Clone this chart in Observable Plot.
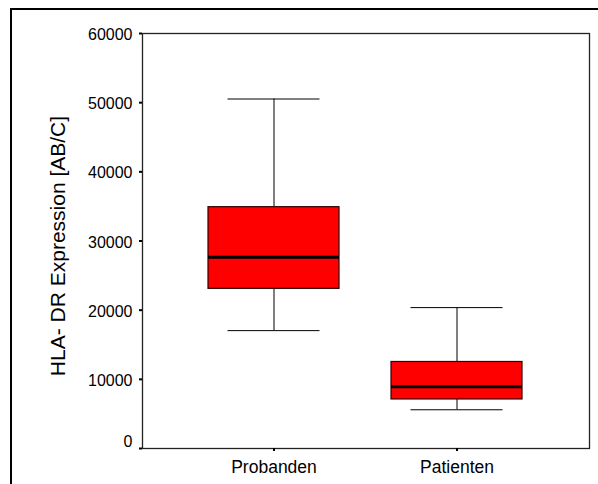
<!DOCTYPE html>
<html>
<head>
<meta charset="utf-8">
<script src="https://cdn.jsdelivr.net/npm/d3@7"></script>
<script src="https://cdn.jsdelivr.net/npm/@observablehq/plot@0.6"></script>
<style>
  html, body { margin: 0; padding: 0; background: #fff; overflow: hidden; }
  #wrap { position: relative; width: 598px; height: 484px; }
  #border { position: absolute; left: 10px; top: 8px; width: 700px; height: 700px;
            border-left: 2px solid #000; border-top: 2px solid #000; pointer-events: none; }
  svg { display: block; }
</style>
</head>
<body>
<div id="wrap"><div id="border"></div></div>
<script>
const groups = ["Probanden", "Patienten"];
const lowWhisker = [17040, 5600];
const q1 = [23080, 7090];
const median = [27650, 8930];
const q3 = [34890, 12510];
const highWhisker = [50530, 20370];
const yTicks = [0, 10000, 20000, 30000, 40000, 50000, 60000];
const yLabel = "HLA- DR Expression [AB/C]";

const rows = groups.map((g, i) => ({
  group: g, lo: lowWhisker[i], q1: q1[i], med: median[i], q3: q3[i], hi: highWhisker[i]
}));

const font = "'Liberation Sans', Arial, sans-serif";
const fmt = d3.format("d");

const chart = Plot.plot({
  width: 598,
  height: 484,
  marginLeft: 142,
  marginRight: 9,
  marginTop: 33,
  marginBottom: 36,
  style: { fontFamily: font, background: "transparent", color: "#000" },
  x: { type: "band", domain: groups, paddingInner: 0.284, paddingOuter: 0.3633, label: null },
  y: { domain: [0, 60000], label: null },
  marks: [
    Plot.frame({ stroke: "#222", strokeWidth: 1.3 }),
    // whiskers
    Plot.ruleX(rows, { x: "group", y1: "q3", y2: "hi", stroke: "#000", strokeWidth: 1 }),
    Plot.ruleX(rows, { x: "group", y1: "lo", y2: "q1", stroke: "#000", strokeWidth: 1 }),
    Plot.tickY(rows, { x: "group", y: "hi", stroke: "#000", strokeWidth: 1, insetLeft: 19.5, insetRight: 19.5 }),
    Plot.tickY(rows, { x: "group", y: "lo", stroke: "#000", strokeWidth: 1, insetLeft: 19.5, insetRight: 19.5 }),
    // boxes
    Plot.barY(rows, { x: "group", y1: "q1", y2: "q3", fill: "#ff0000", stroke: "#300", strokeWidth: 1.2, insetLeft: 0, insetRight: 0 }),
    Plot.tickY(rows, { x: "group", y: "med", stroke: "#000", strokeWidth: 3.2 }),
    // y axis: tick marks, then labels
    Plot.axisY(yTicks, { tickSize: 3, tickFormat: () => "", stroke: "#000", strokeWidth: 2 }),
    Plot.text(yTicks.filter(d => d !== 0), { y: d => d, text: fmt, frameAnchor: "left", textAnchor: "end",
      dx: -10, dy: 1.5, fontSize: 16, fill: "#000" }),
    Plot.text(yTicks.filter(d => d === 0), { y: d => d, text: fmt, frameAnchor: "left", textAnchor: "end",
      dx: -10, dy: -7, fontSize: 16, fill: "#000" }),
    Plot.axisX({ tickSize: 3, tickPadding: 9, fontSize: 17.5, stroke: "#000", strokeWidth: 2 }),
    Plot.text([yLabel], { frameAnchor: "left", textAnchor: "middle", dx: -84, dy: 5, rotate: -90, fontSize: 21, fill: "#000" })
  ]
});
document.getElementById("wrap").prepend(chart);
</script>
</body>
</html>
